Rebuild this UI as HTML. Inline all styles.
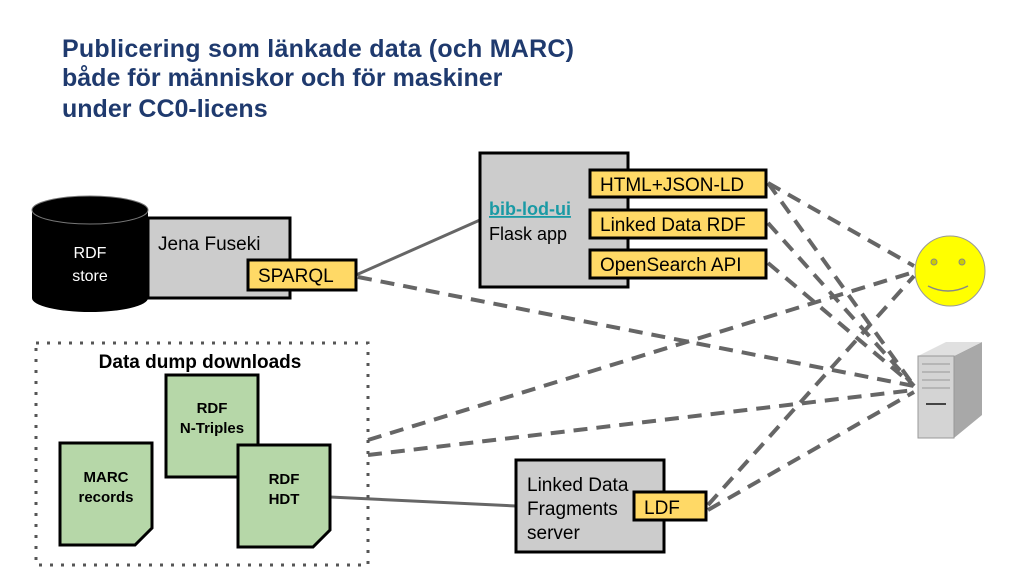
<!DOCTYPE html>
<html><head><meta charset="utf-8"><style>
body{margin:0;background:#fff;width:1024px;height:576px;overflow:hidden}
svg text{font-family:"Liberation Sans",sans-serif}
</style></head><body>
<svg width="1024" height="576" viewBox="0 0 1024 576">
<text x="62" y="57" font-size="25" font-weight="bold" fill="#1f3a6e" textLength="512">Publicering som länkade data (och MARC)</text>
<text x="62" y="86" font-size="25" font-weight="bold" fill="#1f3a6e">både för människor och för maskiner</text>
<text x="62" y="117" font-size="25" font-weight="bold" fill="#1f3a6e">under CC0-licens</text>

<g stroke="#666" stroke-width="4" fill="none" stroke-dasharray="14,9">
<line x1="358" y1="277" x2="914" y2="386"/>
<line x1="768" y1="183" x2="914" y2="266"/>
<line x1="768" y1="183" x2="914" y2="386"/>
<line x1="768" y1="223" x2="914" y2="386"/>
<line x1="768" y1="263" x2="914" y2="386"/>
<line x1="368" y1="440" x2="914" y2="272"/>
<line x1="368" y1="455" x2="914" y2="390"/>
<line x1="708" y1="505" x2="914" y2="276"/>
<line x1="708" y1="510" x2="914" y2="392"/>
</g>
<g stroke="#666" stroke-width="3" fill="none">
<line x1="356" y1="275" x2="480" y2="220"/>
<line x1="330" y1="497" x2="516" y2="506"/>
</g>

<path d="M32,210 L32,298 A58,14 0 0 0 148,298 L148,210 Z" fill="#000"/>
<ellipse cx="90" cy="210" rx="58" ry="14" fill="#000" stroke="#777" stroke-width="1"/>
<text x="90" y="258" font-size="16" fill="#fff" text-anchor="middle">RDF</text>
<text x="90" y="281" font-size="16" fill="#fff" text-anchor="middle">store</text>

<rect x="148" y="218" width="142" height="80" fill="#ccc" stroke="#000" stroke-width="3"/>
<text x="158" y="250" font-size="19">Jena Fuseki</text>
<rect x="248" y="260" width="108" height="30" fill="#ffd966" stroke="#000" stroke-width="3"/>
<text x="258" y="282" font-size="19">SPARQL</text>

<rect x="480" y="153" width="148" height="134" fill="#ccc" stroke="#000" stroke-width="3"/>
<text x="489" y="215" font-size="18" font-weight="bold" fill="#1a9aa5" text-decoration="underline">bib-lod-ui</text>
<text x="489" y="240" font-size="18">Flask app</text>
<rect x="590" y="170" width="176" height="27" fill="#ffd966" stroke="#000" stroke-width="3"/>
<text x="600" y="191" font-size="19">HTML+JSON-LD</text>
<rect x="590" y="210" width="176" height="28" fill="#ffd966" stroke="#000" stroke-width="3"/>
<text x="600" y="231" font-size="19">Linked Data RDF</text>
<rect x="590" y="250" width="176" height="28" fill="#ffd966" stroke="#000" stroke-width="3"/>
<text x="600" y="271" font-size="19">OpenSearch API</text>

<circle cx="950" cy="271" r="35" fill="#ffff00" stroke="#999" stroke-width="1"/>
<circle cx="934" cy="262" r="3" fill="#cc0" stroke="#888"/>
<circle cx="962" cy="262" r="3" fill="#cc0" stroke="#888"/>
<path d="M928,286 Q948,296 968,286" stroke="#888" stroke-width="1.5" fill="none"/>

<path d="M954,356 L982,342 L982,415 L954,438 Z" fill="#a8a8a8"/>
<path d="M918,356 L946,342 L982,342 L954,356 Z" fill="#e0e0e0"/>
<rect x="918" y="356" width="36" height="82" fill="#d4d4d4" stroke="#999"/>
<g stroke="#999"><line x1="922" y1="364" x2="950" y2="364"/><line x1="922" y1="372" x2="950" y2="372"/><line x1="922" y1="380" x2="950" y2="380"/><line x1="922" y1="388" x2="950" y2="388"/><line x1="926" y1="404" x2="946" y2="404" stroke="#444" stroke-width="2"/></g>

<rect x="36" y="343" width="332" height="222" fill="none" stroke="#555" stroke-width="3" stroke-dasharray="3,8"/>
<text x="200" y="368" font-size="19" font-weight="bold" text-anchor="middle">Data dump downloads</text>

<g stroke="#000" stroke-width="3" fill="#b6d7a8">
<path d="M166,375 L258,375 L258,460 L241,477 L166,477 Z"/>
<path d="M60,443 L152,443 L152,528 L135,545 L60,545 Z"/>
<path d="M238,445 L330,445 L330,530 L313,547 L238,547 Z"/>
</g>
<text x="212" y="413" font-size="15" font-weight="bold" text-anchor="middle">RDF</text>
<text x="212" y="433" font-size="15" font-weight="bold" text-anchor="middle">N-Triples</text>
<text x="106" y="482" font-size="15" font-weight="bold" text-anchor="middle">MARC</text>
<text x="106" y="502" font-size="15" font-weight="bold" text-anchor="middle">records</text>
<text x="284" y="484" font-size="15" font-weight="bold" text-anchor="middle">RDF</text>
<text x="284" y="504" font-size="15" font-weight="bold" text-anchor="middle">HDT</text>

<rect x="516" y="460" width="148" height="92" fill="#ccc" stroke="#000" stroke-width="3"/>
<text x="527" y="491" font-size="19">Linked Data</text>
<text x="527" y="515" font-size="19">Fragments</text>
<text x="527" y="539" font-size="19">server</text>
<rect x="634" y="492" width="72" height="28" fill="#ffd966" stroke="#000" stroke-width="3"/>
<text x="644" y="514" font-size="19">LDF</text>
</svg>
</body></html>
